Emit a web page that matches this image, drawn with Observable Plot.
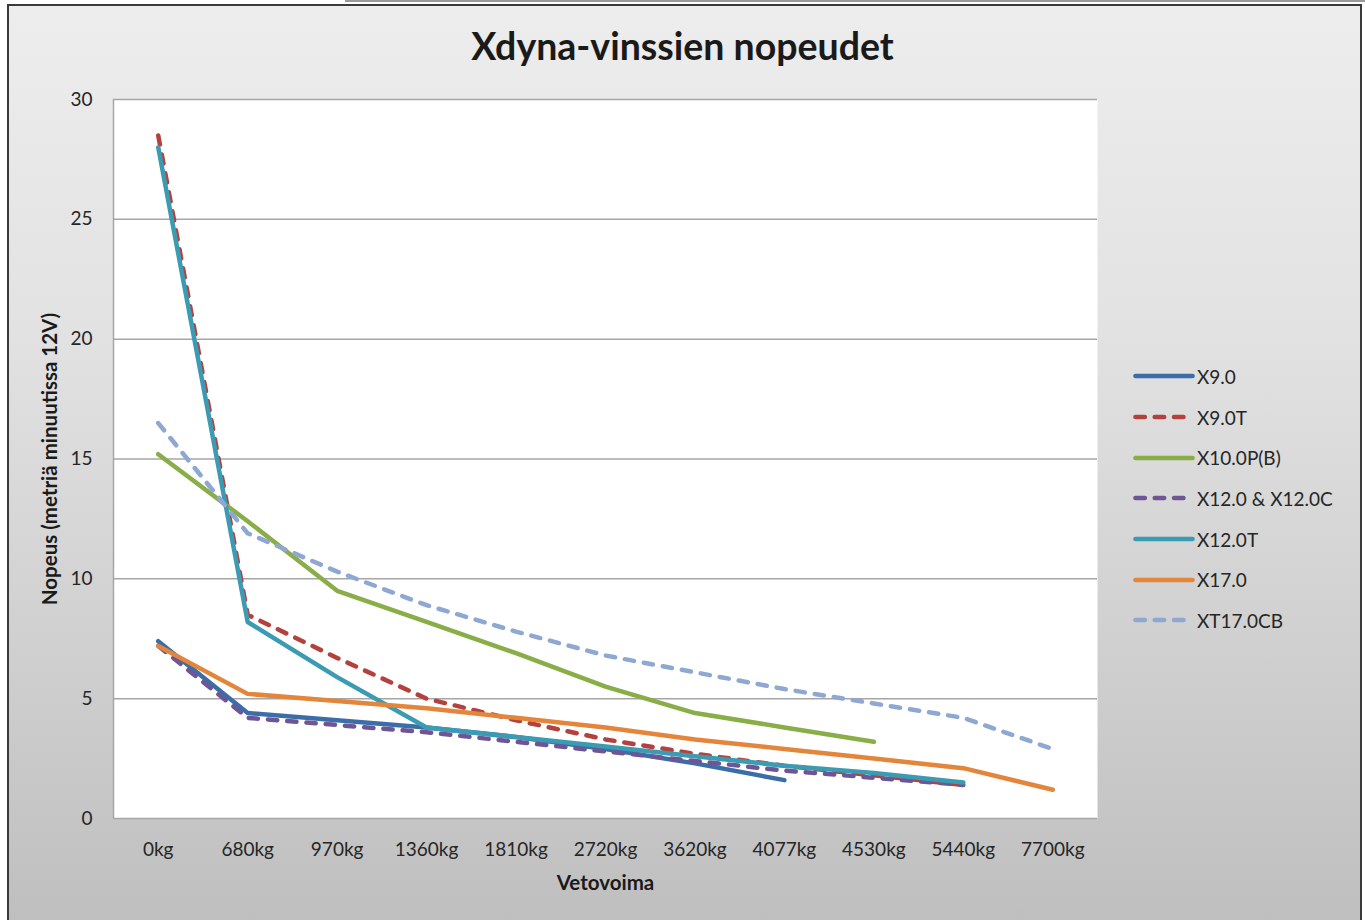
<!DOCTYPE html>
<html>
<head>
<meta charset="utf-8">
<script src="https://cdn.jsdelivr.net/npm/d3@7"></script>
<script src="https://cdn.jsdelivr.net/npm/@observablehq/plot@0.6"></script>
<style>
  html, body { margin: 0; padding: 0; background: #fff; }
  #page { position: relative; width: 1365px; height: 920px; overflow: hidden; font-family: Lato, "Open Sans", sans-serif; }
  #topline { position: absolute; left: 345px; top: 0; width: 1020px; height: 2px; background: #9a9a9a; }
  #box { position: absolute; left: 7px; top: 4px; width: 1351px; height: 930px; border: 2px solid #3a3a3a;
         background: linear-gradient(to bottom, #ededed 0%, #e2e2e2 35%, #cfcfcf 70%, #bebebe 100%); box-sizing: content-box; }
  #chart { position: absolute; left: 0; top: 0; }
  #title { position: absolute; left: 0; width: 1365px; top: 23px; text-align: center; font-size: 37.5px; font-weight: 700; color: #1a1a1a; }
  #legend { position: absolute; left: 1133px; top: 356px; }
  .item { display: flex; align-items: center; height: 40.7px; font-size: 19px; color: #262626; }
  .item svg { margin-right: 2px; }
</style>
</head>
<body>
<div id="page">
  <div id="topline"></div>
  <div id="box"></div>
  <div id="chart"></div>
  <div id="title"></div>
  <div id="legend"></div>
</div>
<script>
const title = "Xdyna-vinssien nopeudet";
const xLabel = "Vetovoima";
const yLabel = "Nopeus (metriä minuutissa 12V)";
const categories = ["0kg", "680kg", "970kg", "1360kg", "1810kg", "2720kg", "3620kg", "4077kg", "4530kg", "5440kg", "7700kg"];
const yTicks = [0, 5, 10, 15, 20, 25, 30];

const seriesNames = ["X9.0", "X9.0T", "X10.0P(B)", "X12.0 & X12.0C", "X12.0T", "X17.0", "XT17.0CB"];
const x90    = [7.4, 4.4, 4.1, 3.8, 3.4, 2.9, 2.3, 1.6, null, null, null];
const x90T   = [28.5, 8.5, 6.7, 5.0, 4.1, 3.3, 2.7, 2.2, 1.8, 1.4, null];
const x100PB = [15.2, 12.4, 9.5, 8.2, 6.9, 5.5, 4.4, 3.8, 3.2, null, null];
const x120   = [7.2, 4.2, 3.9, 3.6, 3.2, 2.8, 2.4, 2.0, 1.7, 1.4, null];
const x120T  = [28.0, 8.2, 5.9, 3.8, 3.4, 3.0, 2.6, 2.2, 1.9, 1.5, null];
const x170   = [7.2, 5.2, 4.9, 4.6, 4.2, 3.8, 3.3, 2.9, 2.5, 2.1, 1.2];
const xt170CB= [16.5, 11.9, 10.3, 8.9, 7.8, 6.8, 6.1, 5.4, 4.8, 4.2, 2.9];
const seriesValues = [x90, x90T, x100PB, x120, x120T, x170, xt170CB];
const colors = ["#3b6ea8", "#b3413d", "#89ad47", "#6e5596", "#3a9bb3", "#e3853a", "#8ea8d2"];
const dashed = [false, true, false, true, false, false, true];

const dash = "9.3,10";
const lineMarks = seriesNames.map((name, s) => {
  const rows = seriesValues[s].map((v, i) => ({i, v})).filter(d => d.v != null);
  return Plot.line(rows, {
    x: "i", y: "v", stroke: colors[s], strokeWidth: 4.5,
    strokeLinecap: "round", strokeLinejoin: "round",
    strokeDasharray: dashed[s] ? dash : null
  });
});

const chart = Plot.plot({
  width: 1365,
  height: 920,
  marginLeft: 113,
  marginRight: 268,
  marginTop: 99,
  marginBottom: 102,
  style: {background: "transparent", fontFamily: "Lato, 'Open Sans', sans-serif", overflow: "visible"},
  x: {type: "linear", domain: [-0.5, categories.length - 0.5]},
  y: {domain: [0, 30]},
  marks: [
    Plot.frame({fill: "white", stroke: null}),
    Plot.gridY(yTicks, {stroke: "#a6a6a6", strokeOpacity: 1, strokeWidth: 1.5}),
    Plot.ruleX([-0.5], {stroke: "#a6a6a6", strokeWidth: 1.5}),
    ...lineMarks,
    Plot.axisY(yTicks, {tickSize: 0, tickPadding: 21, fontSize: 19, fill: "#262626", label: null}),
    Plot.axisX(d3.range(categories.length), {tickSize: 0, tickPadding: 24, fontSize: 19, fill: "#262626", label: null,
      tickFormat: i => categories[i]}),
    Plot.text([xLabel], {frameAnchor: "bottom", dy: 71, fontSize: 20.5, fontWeight: "bold", fill: "#1a1a1a"}),
    Plot.text([yLabel], {frameAnchor: "left", dx: -63, rotate: -90, textAnchor: "middle", fontSize: 20.5, fontWeight: "bold", fill: "#1a1a1a"})
  ]
});
document.getElementById("chart").appendChild(chart);
document.getElementById("title").textContent = title;

const legend = document.getElementById("legend");
seriesNames.forEach((name, s) => {
  const item = document.createElement("div");
  item.className = "item";
  const dashAttr = dashed[s] ? `stroke-dasharray="${dash}"` : "";
  item.innerHTML = `<svg width="62" height="10"><line x1="2.5" y1="5" x2="${dashed[s] ? 52 : 59.5}" y2="5" stroke="${colors[s]}" stroke-width="4.7" stroke-linecap="round" ${dashAttr}/></svg><span>${name}</span>`;
  legend.appendChild(item);
});
</script>
</body>
</html>
